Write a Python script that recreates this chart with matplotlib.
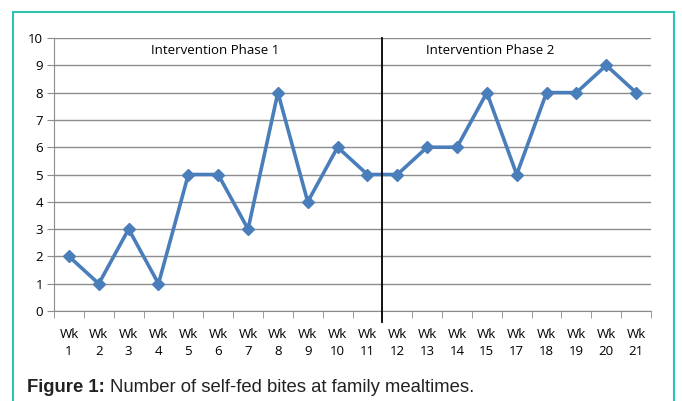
import matplotlib.pyplot as plt
from matplotlib.patches import Rectangle
import numpy as np

weeks = ['1', '2', '3', '4', '5', '6', '7', '8', '9', '10', '11',
         '12', '13', '14', '15', '17', '18', '19', '20', '21']
bites = [2, 1, 3, 1, 5, 5, 3, 8, 4, 6, 5, 5, 6, 6, 8, 5, 8, 8, 9, 8]
phase_labels = ['Intervention Phase 1', 'Intervention Phase 2']

grey = '#8c8c8c'
fig = plt.figure(figsize=(6.82, 4.01), dpi=100)
ax = fig.add_axes([0.0792, 0.2244, 0.8754, 0.6808])

x = np.arange(len(weeks))
ax.plot(x, bites, color='#4a7ebb', lw=2.6, marker='D', ms=6.5, zorder=3)

ax.set_xlim(-0.5, len(weeks) - 0.5)
ax.set_ylim(0, 10)
ax.set_yticks(range(0, 11))
ax.grid(axis='y', color=grey, lw=1)
ax.set_axisbelow(True)

ax.set_xticks(x)
ax.set_xticklabels(['Wk\n' + w for w in weeks], fontsize=9.5, family='Open Sans',
                   linespacing=1.45)
ax.set_xticks(np.arange(-0.5, len(weeks)), minor=True)
ax.tick_params(axis='x', which='major', length=0, pad=12)
ax.tick_params(axis='x', which='minor', length=5, color=grey)
ax.tick_params(axis='y', length=5, color=grey, pad=3, labelsize=9.5)
for lab in ax.get_yticklabels():
    lab.set_family('Open Sans')

for s in ['top', 'right']:
    ax.spines[s].set_visible(False)
for s in ['left', 'bottom']:
    ax.spines[s].set_color(grey)

# phase separator
ax.axvline(10.5, ymin=-0.04, ymax=1, color='black', lw=1.3, clip_on=False, zorder=4)

ax.text(4.9, 9.55, phase_labels[0], ha='center', va='center', fontsize=9.5, family='Open Sans')
ax.text(14.1, 9.55, phase_labels[1], ha='center', va='center', fontsize=9.5, family='Open Sans')

fig.patches.append(Rectangle((13 / 682, -0.05), (674 - 13) / 682, 1.05 - 12 / 401,
                             transform=fig.transFigure, fill=False,
                             edgecolor='#2ec4b0', lw=1.5))

cap_y = 1 - 388 / 401
t1 = fig.text(27 / 682, cap_y, 'Figure 1:', fontsize=13.3, va='center', ha='left',
              family='Liberation Sans', weight='bold', color='#222222')
ax.annotate('Number of self-fed bites at family mealtimes.', xy=(1, 0.5),
            xycoords=t1, xytext=(4, 0), textcoords='offset points',
            fontsize=13.3, va='center', ha='left', family='Liberation Sans',
            color='#222222', annotation_clip=False)

fig.savefig('out.png', dpi=100)
